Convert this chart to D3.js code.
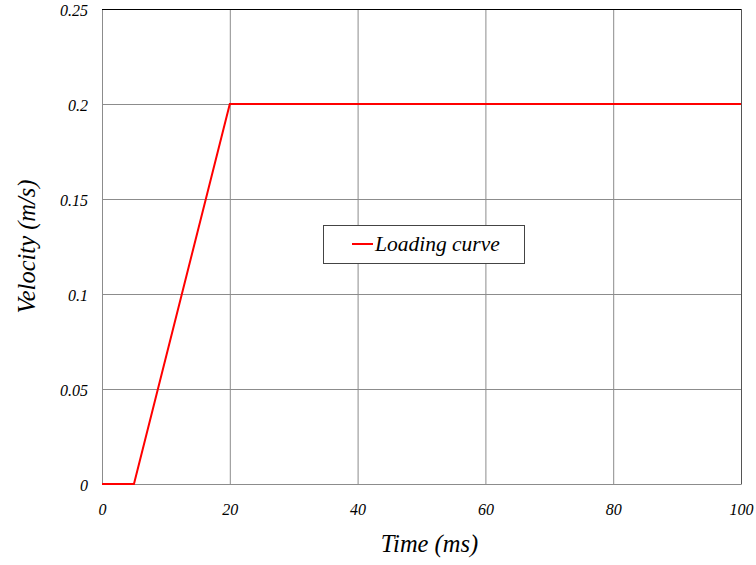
<!DOCTYPE html>
<html><head><meta charset="utf-8">
<script src="https://cdn.jsdelivr.net/npm/d3@7"></script>
<style>body{margin:0;background:#fff}svg{display:block}</style>
</head><body>
<svg id="c" width="756" height="565"></svg>
<script>
const timeMs = [0, 5, 20, 100];
const velocity = [0, 0, 0.2, 0.2];
const xTicks = [0, 20, 40, 60, 80, 100];
const yTicks = [0, 0.05, 0.1, 0.15, 0.2, 0.25];
const seriesName = "Loading curve";

const svg = d3.select("#c");
const L = 102, R = 741, T = 9, B = 484;
const x = d3.scaleLinear().domain([0, 100]).range([L, R]);
const y = d3.scaleLinear().domain([0, 0.25]).range([B, T]);
const font = "Liberation Serif, Times New Roman, serif";

// grid
svg.append("g").selectAll("line").data(xTicks).join("line")
  .attr("x1", d => x(d) + 0.5).attr("x2", d => x(d) + 0.5)
  .attr("y1", T).attr("y2", B).attr("stroke", "#8c8c8c").attr("stroke-width", 1);
svg.append("g").selectAll("line").data(yTicks).join("line")
  .attr("y1", d => y(d) + 0.5).attr("y2", d => y(d) + 0.5)
  .attr("x1", L).attr("x2", R).attr("stroke", "#8c8c8c").attr("stroke-width", 1);
// borders
svg.append("line").attr("x1", L).attr("x2", R + 0.5).attr("y1", T + 0.5).attr("y2", T + 0.5).attr("stroke", "#000");
svg.append("line").attr("x1", R + 0.5).attr("x2", R + 0.5).attr("y1", T).attr("y2", B + 0.5).attr("stroke", "#555");

// x axis labels
const xa = d3.axisBottom(x).tickValues(xTicks).tickSize(0).tickPadding(20).tickFormat(d3.format("d"));
const gx = svg.append("g").attr("transform", `translate(0,${B})`).call(xa);
gx.select(".domain").remove();
gx.selectAll("text").style("font-family", font).style("font-style", "italic").style("font-size", "16px").attr("fill", "#000");

const ya = d3.axisLeft(y).tickValues(yTicks).tickSize(0).tickPadding(14).tickFormat(d => String(+d.toFixed(2)));
const gy = svg.append("g").attr("transform", `translate(${L},0)`).call(ya);
gy.select(".domain").remove();
gy.selectAll("text").attr("dy", "0.4em").style("font-family", font).style("font-style", "italic").style("font-size", "16px").attr("fill", "#000");

// line
const data = timeMs.map((t, i) => [t, velocity[i]]);
svg.append("path").datum(data)
  .attr("d", d3.line().x(d => x(d[0])).y(d => y(d[1])))
  .attr("fill", "none").attr("stroke", "#ff0000").attr("stroke-width", 2);

// axis titles
svg.append("text").attr("x", 429.5).attr("y", 552).attr("text-anchor", "middle")
  .style("font-family", font).style("font-style", "italic").style("font-size", "24.5px").text("Time (ms)");
svg.append("text").attr("transform", `translate(35,${(T + B) / 2 + 0}) rotate(-90)`).attr("text-anchor", "middle")
  .style("font-family", font).style("font-style", "italic").style("font-size", "24.5px").text("Velocity (m/s)");

// legend
const lg = svg.append("g");
lg.append("rect").attr("x", 323.5).attr("y", 225.5).attr("width", 201).attr("height", 38)
  .attr("fill", "#fff").attr("stroke", "#444").attr("stroke-width", 1);
lg.append("line").attr("x1", 352).attr("x2", 373).attr("y1", 244).attr("y2", 244)
  .attr("stroke", "#ff0000").attr("stroke-width", 2);
lg.append("text").attr("x", 375).attr("y", 251).style("font-family", font).style("font-style", "italic")
  .style("font-size", "21.5px").text(seriesName);
</script>
</body></html>
